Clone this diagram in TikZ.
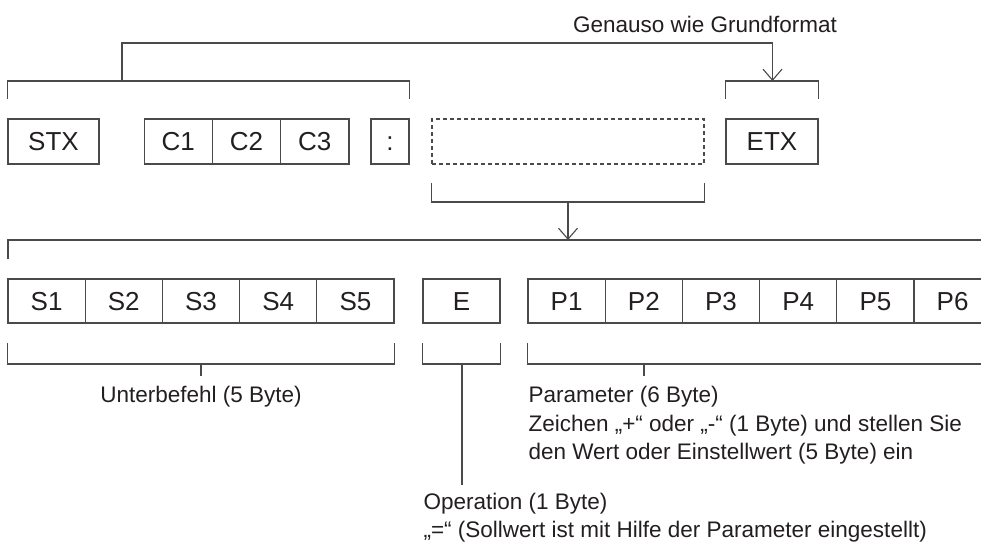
\documentclass[tikz,border=0pt]{standalone}
\usepackage{fontspec}
\setmainfont{Liberation Sans}
\usetikzlibrary{arrows.meta}
\definecolor{ln}{HTML}{4A4A4A}
\definecolor{tx}{HTML}{231F20}
\begin{document}
\begin{tikzpicture}[x=1pt,y=-1pt,
  line width=1.1pt,
  cell/.style={draw=ln, text=tx, inner sep=0pt, font=\fontsize{26}{30}\selectfont,
    text height=18.6pt, text depth=0pt},
  rowA/.style={cell, minimum height=45pt},
  rowB/.style={cell, minimum height=44pt, minimum width=77.2pt},
  lab/.style={text=tx, inner sep=0pt, font=\fontsize{22.5}{28.5}\selectfont},
  brk/.style={draw=ln},
  arr/.style={draw=ln, -{Straight Barb[length=11pt,width=19pt,line width=1.1pt]}}]
\clip (0,0) rectangle (981,545);
\fill[white] (0,0) rectangle (981,545);

% Row A
\node[rowA, minimum width=91pt] (stx) at (53.5,141.5) {STX};
\node[rowA, minimum width=68.3pt] (c1) at (178.2,141.5) {C1};
\node[rowA, minimum width=68.3pt] (c2) at (246.5,141.5) {C2};
\node[rowA, minimum width=68.3pt] (c3) at (314.8,141.5) {C3};
\node[rowA, minimum width=38pt] (colon) at (390,141.5) {:};
\node[rowA, minimum width=272pt, dashed, dash pattern=on 4pt off 3pt] (dat) at (568,141.5) {};
\node[rowA, minimum width=92pt] (etx) at (772,141.5) {ETX};

% Title
\node[lab, anchor=base] (title) at (705,32.3) {Genauso wie Grundformat};

% Top brackets
\coordinate (tb) at (122,81);
\draw[brk] (stx.north west |- 0,99) -- (stx.north west |- 0,81) -- (colon.north east |- 0,81) -- (colon.north east |- 0,99);
\draw[brk] (etx.north west |- 0,99) -- (etx.north west |- 0,81) -- (etx.north east |- 0,81) -- (etx.north east |- 0,99);
\coordinate (etxb) at (772.5,81);
\draw[arr] (tb) -- (122,43) -| (etxb);

% Bracket below dashed box
\draw[brk] (dat.south west |- 0,183) -- (dat.south west |- 0,202) -- (dat.south east |- 0,202) -- (dat.south east |- 0,183);
\coordinate (datb) at (568,202);
\coordinate (longl) at (568,240);
\draw[arr] (datb) -- (longl);
\draw[brk] (8,259) -- (8,240) -- (995,240);

% Row B
\node[rowB] (s1) at (46.6,301) {S1};
\node[rowB] (s2) at (123.8,301) {S2};
\node[rowB] (s3) at (201,301) {S3};
\node[rowB] (s4) at (278.2,301) {S4};
\node[rowB] (s5) at (355.4,301) {S5};
\node[rowB, minimum width=77pt] (e) at (461.5,301) {E};
\node[rowB] (p1) at (566.6,301) {P1};
\node[rowB] (p2) at (643.8,301) {P2};
\node[rowB] (p3) at (721,301) {P3};
\node[rowB] (p4) at (798.2,301) {P4};
\node[rowB] (p5) at (875.4,301) {P5};
\node[rowB] (p6) at (952.6,301) {P6};

% Lower brackets
\draw[brk] (s1.south west |- 0,343) -- (s1.south west |- 0,364) -- (s5.south east |- 0,364) -- (s5.south east |- 0,343);
\draw[brk] (s3.south |- 0,364) -- (s3.south |- 0,376);
\draw[brk] (e.south west |- 0,343) -- (e.south west |- 0,364) -- (e.south east |- 0,364) -- (e.south east |- 0,343);
\coordinate (eb) at (462,364);
\coordinate (opl) at (462,485);
\draw[brk] (eb) -- (opl);
\draw[brk] (p1.south west |- 0,343) -- (p1.south west |- 0,364) -- (995,364);
\draw[brk] (644,364) -- (644,376);

% Labels
\node[lab, anchor=base] (unt) at (201,402.5) {Unterbefehl (5 Byte)};
\node[lab, anchor=base west] (par1) at (528,402.5) {Parameter (6 Byte)};
\node[lab, anchor=base west] (par2) at (528,431) {Zeichen „+“ oder „-“ (1 Byte) und stellen Sie};
\node[lab, anchor=base west] (par3) at (528,459.5) {den Wert oder Einstellwert (5 Byte) ein};
\node[lab, anchor=base west] (op1) at (423,509.3) {Operation (1 Byte)};
\node[lab, anchor=base west] (op2) at (423,537.8) {„=“ (Sollwert ist mit Hilfe der Parameter eingestellt)};
\end{tikzpicture}
\end{document}
